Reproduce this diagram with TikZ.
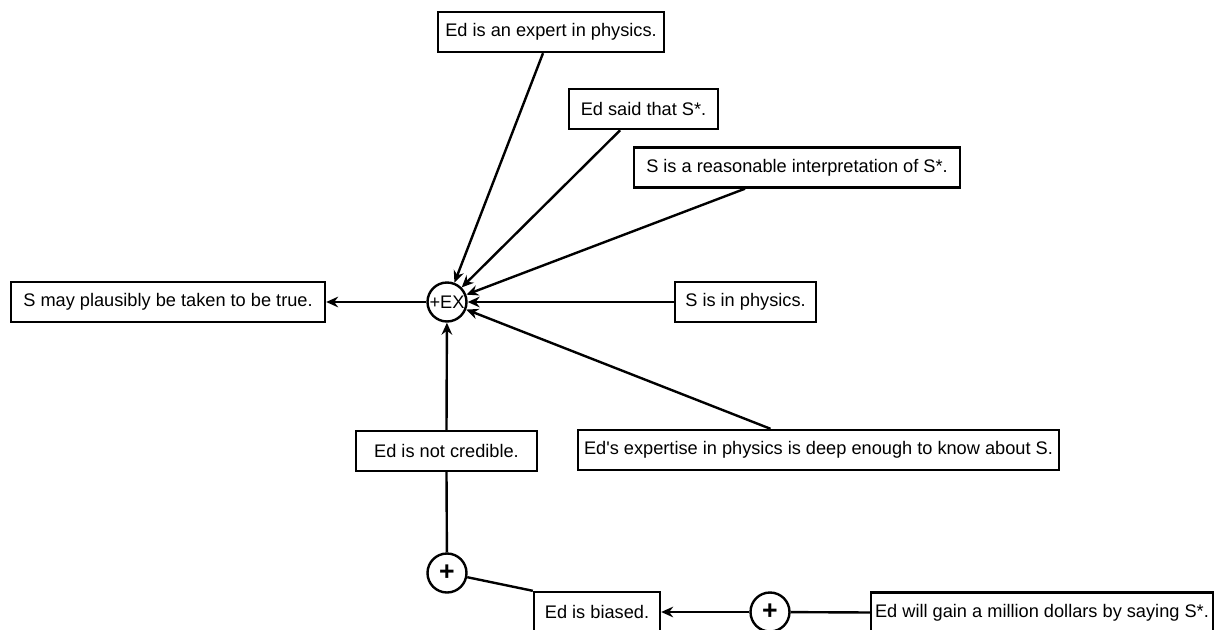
\documentclass[tikz,border=0pt]{standalone}
\usepackage{fontspec}
\setmainfont{Liberation Sans}
\usetikzlibrary{arrows.meta}
\begin{document}
\begin{tikzpicture}[x=0.75pt,y=-0.75pt,
  every node/.style={font=\fontsize{13.65pt}{15pt}\selectfont},
  box/.style={draw,line width=1.8pt,inner sep=0pt,minimum height=30pt},
  op/.style={draw,circle,line width=1.8pt,inner sep=0pt,minimum size=29.25pt},
  plus/.style={op,font=\fontsize{20pt}{20pt}\selectfont\bfseries},
  link/.style={line width=1.8pt},
  arr/.style={link,-{Stealth[length=9pt,width=8pt,inset=3pt]}}]
\clip (0,0) rectangle (1215,629);
\useasboundingbox (0,0) rectangle (1215,629);
% nodes
\node[box,minimum width=169.5pt] (expert) at (551,32) {Ed is an expert in physics.};
\node[box,minimum width=111.75pt] (said) at (643.5,109) {Ed said that S*.};
\node[box,minimum width=244.5pt] (interp) at (797,167.5) {S is a reasonable interpretation of S*.};
\node[box,minimum width=235.5pt] (concl) at (168,302) {S may plausibly be taken to be true.};
\node[box,minimum width=105.75pt] (phys) at (745.5,302) {S is in physics.};
\node[box,minimum width=135.75pt] (notcred) at (446.5,451) {Ed is not credible.};
\node[box,minimum width=360.75pt] (deep) at (818.5,450) {Ed\textquotesingle s expertise in physics is deep enough to know about S.};
\node[box,minimum width=94.5pt] (biased) at (597,612) {Ed is biased.};
\node[box,minimum width=256.5pt] (gain) at (1042,612.5) {Ed will gain a million dollars by saying S*.};
\node[op] (ex) at (447,302) {+EX};
\node[plus] (p1) at (447,573) {+};
\node[plus] (p2) at (770,612) {+};
% connectors
\draw[arr] ([xshift=-6pt]expert.south) -- (ex);
\draw[arr] ([xshift=-17.5pt]said.south) -- (ex);
\draw[arr] ([xshift=-39pt]interp.south) -- (ex);
\draw[arr] (phys.west) -- (ex);
\draw[arr] ([xshift=-36pt]deep.north) -- (ex);
\draw[arr] (notcred.north) -- (ex);
\draw[arr] (ex) -- (concl.east);
\draw[link] (p1) -- (notcred.south);
\draw[link] (p1) -- (biased.north west);
\draw[link] (gain.west) -- (p2);
\draw[arr] (p2) -- (biased.east);
\end{tikzpicture}
\end{document}
